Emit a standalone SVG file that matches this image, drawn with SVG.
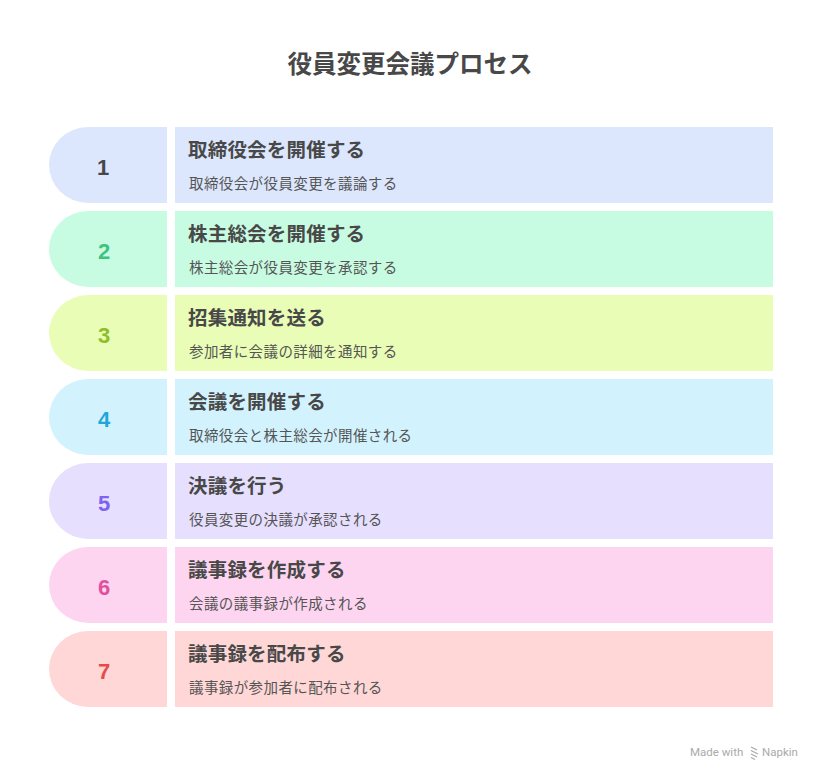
<svg xmlns="http://www.w3.org/2000/svg" width="822" height="781" viewBox="0 0 822 781">
<style>
.title{font-family:"Noto Sans CJK JP","Noto Sans",sans-serif;font-weight:700;font-size:24.5px;fill:#484848}
.head{font-family:"Noto Sans CJK JP","Noto Sans",sans-serif;font-weight:700;font-size:19.5px;fill:#484848;letter-spacing:0.2px}
.sub{font-family:"Noto Sans CJK JP","Noto Sans",sans-serif;font-size:14.5px;fill:#555;letter-spacing:0.4px}
.num{font-family:"Liberation Sans","Noto Sans",sans-serif;font-weight:700;font-size:22px;text-anchor:middle}
.foot{font-family:"Roboto","Noto Sans",sans-serif;font-size:11.5px;fill:#aaa}
</style>
<rect width="822" height="781" fill="#ffffff"/>
<text class="title" x="410" y="73" text-anchor="middle">役員変更会議プロセス</text>
<g id="step1">
<path d="M167,127 H88 A39,38 0 0 0 49,165 A39,38 0 0 0 88,203 H167 Z" fill="#dce7fe"/>
<rect x="175" y="127" width="598" height="76" fill="#dce7fe"/>
<text class="num" x="103" y="175" fill="#484848">1</text>
<text class="head" x="188" y="157">取締役会を開催する</text>
<text class="sub" x="189" y="189">取締役会が役員変更を議論する</text>
</g>
<g id="step2">
<path d="M167,211 H88 A39,38 0 0 0 49,249 A39,38 0 0 0 88,287 H167 Z" fill="#c8fce2"/>
<rect x="175" y="211" width="598" height="76" fill="#c8fce2"/>
<text class="num" x="104" y="259" fill="#3cc47f">2</text>
<text class="head" x="188" y="241">株主総会を開催する</text>
<text class="sub" x="189" y="273">株主総会が役員変更を承認する</text>
</g>
<g id="step3">
<path d="M167,295 H88 A39,38 0 0 0 49,333 A39,38 0 0 0 88,371 H167 Z" fill="#e9fdb6"/>
<rect x="175" y="295" width="598" height="76" fill="#e9fdb6"/>
<text class="num" x="104" y="343" fill="#8dbd2a">3</text>
<text class="head" x="188" y="325">招集通知を送る</text>
<text class="sub" x="189" y="357">参加者に会議の詳細を通知する</text>
</g>
<g id="step4">
<path d="M167,379 H88 A39,38 0 0 0 49,417 A39,38 0 0 0 88,455 H167 Z" fill="#d2f3fe"/>
<rect x="175" y="379" width="598" height="76" fill="#d2f3fe"/>
<text class="num" x="104" y="427" fill="#22a6d9">4</text>
<text class="head" x="188" y="409">会議を開催する</text>
<text class="sub" x="189" y="441">取締役会と株主総会が開催される</text>
</g>
<g id="step5">
<path d="M167,463 H88 A39,38 0 0 0 49,501 A39,38 0 0 0 88,539 H167 Z" fill="#e6dffe"/>
<rect x="175" y="463" width="598" height="76" fill="#e6dffe"/>
<text class="num" x="104" y="511" fill="#7c63f0">5</text>
<text class="head" x="188" y="493">決議を行う</text>
<text class="sub" x="189" y="525">役員変更の決議が承認される</text>
</g>
<g id="step6">
<path d="M167,547 H88 A39,38 0 0 0 49,585 A39,38 0 0 0 88,623 H167 Z" fill="#fdd5f0"/>
<rect x="175" y="547" width="598" height="76" fill="#fdd5f0"/>
<text class="num" x="104" y="595" fill="#e0509f">6</text>
<text class="head" x="188" y="577">議事録を作成する</text>
<text class="sub" x="189" y="609">会議の議事録が作成される</text>
</g>
<g id="step7">
<path d="M167,631 H88 A39,38 0 0 0 49,669 A39,38 0 0 0 88,707 H167 Z" fill="#fed7d6"/>
<rect x="175" y="631" width="598" height="76" fill="#fed7d6"/>
<text class="num" x="104" y="679" fill="#e84a4a">7</text>
<text class="head" x="188" y="661">議事録を配布する</text>
<text class="sub" x="189" y="693">議事録が参加者に配布される</text>
</g>
<g id="connectors"></g>
<g id="footer">
<text class="foot" x="690" y="756">Made with</text>
<path d="M751,747 L757,750 M751,750.5 L758,754 M751,754 L757,757 M751,757.5 L755,759.5" stroke="#aaa" stroke-width="1.3" fill="none"/>
<text class="foot" x="762" y="756">Napkin</text>
</g>
</svg>
